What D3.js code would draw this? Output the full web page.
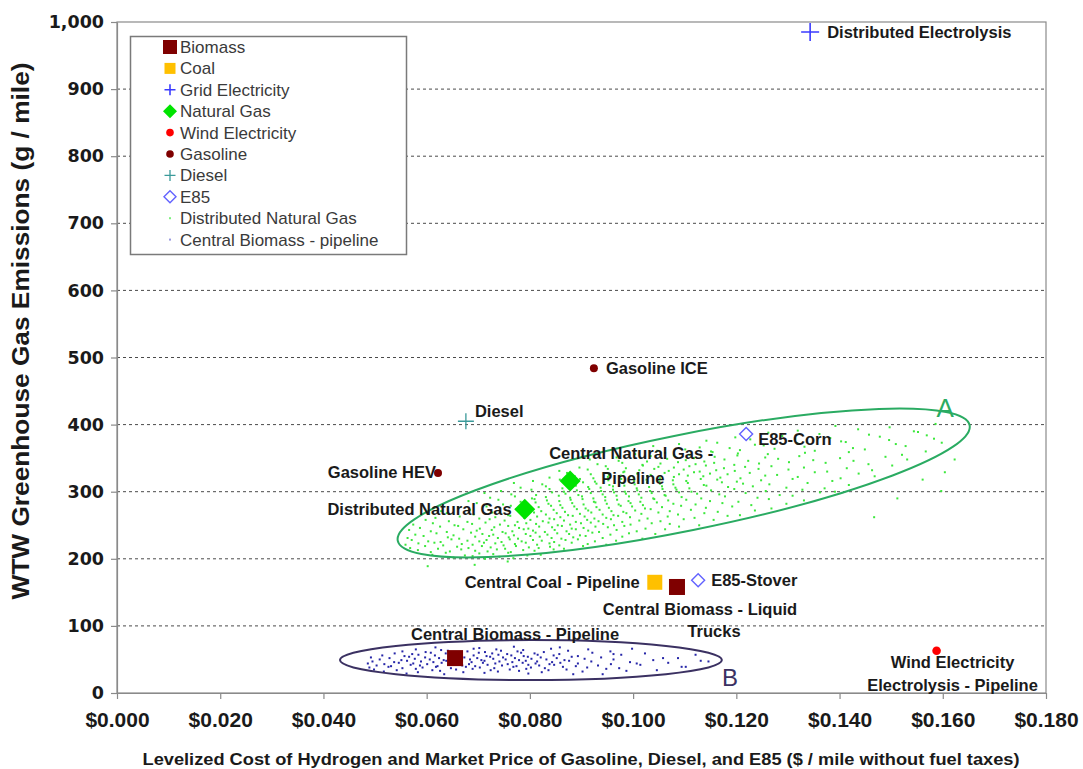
<!DOCTYPE html>
<html>
<head>
<meta charset="utf-8">
<script src="https://cdn.jsdelivr.net/npm/d3@7"></script>
<style>
  body { margin: 0; background: #ffffff; }
  svg { display: block; font-family: "Liberation Sans", Arial, sans-serif; }
</style>
</head>
<body>
<svg id="chart" width="1083" height="769"></svg>
<script>
// ---------- axis ticks ----------
const xTicks = [0, 0.02, 0.04, 0.06, 0.08, 0.10, 0.12, 0.14, 0.16, 0.18];
const xTickLabels = ["$0.000", "$0.020", "$0.040", "$0.060", "$0.080", "$0.100", "$0.120", "$0.140", "$0.160", "$0.180"];
const yTicks = [0, 100, 200, 300, 400, 500, 600, 700, 800, 900, 1000];
const yTickLabels = ["0", "100", "200", "300", "400", "500", "600", "700", "800", "900", "1,000"];

// ---------- pathways: cost ($/mile) vs WTW GHG (g/mile) ----------
const biomass = [
  { lines: ["Central Biomass - Liquid", "Trucks"], x: 0.1085, y: 158 },
  { lines: ["Central Biomass - Pipeline"], x: 0.0655, y: 52 }
];
const coal = [
  { lines: ["Central Coal - Pipeline"], x: 0.1042, y: 165 }
];
const gridElectricity = [
  { lines: ["Distributed Electrolysis"], x: 0.1343, y: 985 }
];
const naturalGas = [
  { lines: ["Distributed Natural Gas"], x: 0.0790, y: 274 },
  { lines: ["Central Natural Gas -", "Pipeline"], x: 0.0878, y: 316 }
];
const windElectricity = [
  { lines: ["Wind Electricity", "Electrolysis - Pipeline"], x: 0.1588, y: 63 }
];
const gasoline = [
  { lines: ["Gasoline ICE"], x: 0.0924, y: 484 },
  { lines: ["Gasoline HEV"], x: 0.0622, y: 328 }
];
const diesel = [
  { lines: ["Diesel"], x: 0.0676, y: 405 }
];
const e85 = [
  { lines: ["E85-Corn"], x: 0.1219, y: 386 },
  { lines: ["E85-Stover"], x: 0.1126, y: 168 }
];

const legendNames = ["Biomass", "Coal", "Grid Electricity", "Natural Gas", "Wind Electricity",
  "Gasoline", "Diesel", "E85", "Distributed Natural Gas", "Central Biomass - pipeline"];

// ---------- Monte Carlo clouds ($/mile, g/mile) ----------
const cloudDistributedNG = [
  [0.0652,202],[0.0689,204],[0.0713,200],[0.0741,203],[0.0768,201],
  [0.0611,206],[0.0637,209],[0.0674,205],[0.0702,208],[0.0729,207],[0.0758,209],[0.0795,205],[0.0821,206],
  [0.0583,213],[0.0608,210],[0.0645,211],[0.0667,214],[0.0694,212],[0.0718,211],[0.0736,214],[0.0763,210],[0.0787,213],[0.0809,212],[0.0846,214],
  [0.0568,216],[0.0597,219],[0.0622,215],[0.0659,218],[0.0681,216],[0.0707,219],[0.0724,217],[0.0752,215],[0.0773,219],[0.0798,217],[0.0817,216],[0.0839,218],[0.0866,215],[0.0903,219],
  [0.0559,221],[0.0584,223],[0.0615,224],[0.0632,220],[0.0668,222],[0.0689,221],[0.0711,224],[0.0733,223],[0.0749,220],[0.0771,222],[0.0792,224],[0.0814,221],[0.0838,223],[0.0857,220],[0.0881,224],[0.0912,222],[0.0948,221],
  [0.0571,228],[0.0603,226],[0.0627,225],[0.0648,229],[0.0679,227],[0.0702,226],[0.0716,228],[0.0745,225],[0.0761,229],[0.0784,226],[0.0806,228],[0.0823,227],[0.0847,225],[0.0869,228],[0.0893,229],[0.0926,226],[0.0967,227],
  [0.0563,231],[0.0594,234],[0.0641,232],[0.0663,230],[0.0694,233],[0.0721,234],[0.0738,231],[0.0759,232],[0.0777,230],[0.0801,234],[0.0819,233],[0.0842,231],[0.0861,230],[0.0884,232],[0.0908,234],[0.0941,231],[0.0979,233],[0.1018,230],
  [0.0578,236],[0.0619,238],[0.0652,235],[0.0686,239],[0.0708,237],[0.0729,236],[0.0753,238],[0.0769,235],[0.0792,237],[0.0811,239],[0.0834,236],[0.0853,238],[0.0876,237],[0.0897,235],[0.0921,239],[0.0956,236],[0.0992,238],[0.1043,237],
  [0.0566,243],[0.0608,241],[0.0639,240],[0.0671,244],[0.0697,242],[0.0726,243],[0.0747,240],[0.0766,241],[0.0788,244],[0.0806,242],[0.0829,240],[0.0848,243],[0.0871,241],[0.0889,244],[0.0913,242],[0.0934,240],[0.0968,243],[0.1007,241],[0.1062,244],
  [0.0587,246],[0.0626,248],[0.0661,249],[0.0703,245],[0.0731,247],[0.0758,249],[0.0779,246],[0.0797,245],[0.0818,248],[0.0843,247],[0.0862,249],[0.0881,245],[0.0904,246],[0.0927,248],[0.0951,247],[0.0983,249],[0.1024,245],[0.1089,248],
  [0.0574,251],[0.0612,253],[0.0654,250],[0.0688,252],[0.0714,254],[0.0742,251],[0.0771,250],[0.0793,253],[0.0812,252],[0.0836,254],[0.0854,250],[0.0878,251],[0.0899,253],[0.0918,254],[0.0942,252],[0.0963,250],[0.0995,251],[0.1036,253],[0.1071,252],[0.1128,250],
  [0.0598,258],[0.0643,256],[0.0679,255],[0.0722,259],[0.0751,257],[0.0776,255],[0.0801,258],[0.0825,256],[0.0847,259],[0.0866,257],[0.0889,255],[0.0911,258],[0.0933,256],[0.0957,259],[0.0979,255],[0.1012,257],[0.1053,256],[0.1098,259],[0.1156,258],
  [0.0617,261],[0.0664,263],[0.0702,260],[0.0733,262],[0.0762,264],[0.0789,261],[0.0814,263],[0.0838,260],[0.0859,262],[0.0883,264],[0.0906,263],[0.0925,260],[0.0948,261],[0.0971,264],[0.0994,262],[0.1028,260],[0.1067,263],[0.1119,261],[0.1183,264],
  [0.0639,268],[0.0691,266],[0.0727,269],[0.0758,265],[0.0784,267],[0.0808,269],[0.0831,266],[0.0852,268],[0.0874,265],[0.0897,267],[0.0919,269],[0.0941,266],[0.0962,265],[0.0987,268],[0.1016,267],[0.1049,269],[0.1087,266],[0.1138,268],[0.1207,265],
  [0.0628,271],[0.0684,273],[0.0742,270],[0.0773,274],[0.0799,272],[0.0822,271],[0.0846,273],[0.0868,270],[0.0891,274],[0.0913,272],[0.0935,273],[0.0958,271],[0.0981,270],[0.1004,272],[0.1034,274],[0.1071,271],[0.1112,273],[0.1164,270],[0.1236,272],
  [0.0661,276],[0.0716,278],[0.0763,279],[0.0792,275],[0.0817,277],[0.0841,279],[0.0863,276],[0.0886,278],[0.0908,275],[0.0929,277],[0.0953,276],[0.0976,279],[0.0998,278],[0.1023,275],[0.1056,277],[0.1093,279],[0.1141,276],[0.1192,278],[0.1268,275],
  [0.0697,283],[0.0748,281],[0.0786,280],[0.0811,284],[0.0836,282],[0.0859,280],[0.0882,283],[0.0904,281],[0.0927,284],[0.0949,282],[0.0972,281],[0.0995,283],[0.1019,280],[0.1046,284],[0.1078,282],[0.1121,281],[0.1173,283],[0.1229,280],[0.1297,282],
  [0.0681,286],[0.0739,288],[0.0782,285],[0.0809,289],[0.0833,287],[0.0857,286],[0.0879,288],[0.0902,289],[0.0924,285],[0.0946,287],[0.0969,288],[0.0991,286],[0.1014,285],[0.1041,289],[0.1068,287],[0.1103,288],[0.1149,286],[0.1204,285],[0.1263,289],[0.1331,287],
  [0.0723,291],[0.0771,293],[0.0804,290],[0.0831,292],[0.0856,294],[0.0878,291],[0.0901,293],[0.0923,290],[0.0946,292],[0.0968,294],[0.0992,293],[0.1016,291],[0.1039,290],[0.1063,294],[0.1094,292],[0.1132,290],[0.1178,293],[0.1241,291],[0.1309,294],
  [0.0712,298],[0.0764,296],[0.0812,295],[0.0843,299],[0.0869,297],[0.0894,295],[0.0918,298],[0.0941,296],[0.0963,299],[0.0986,297],[0.1011,296],[0.1036,298],[0.1061,295],[0.1089,299],[0.1124,297],[0.1167,296],[0.1218,298],[0.1284,295],[0.1362,299],
  [0.0744,301],[0.0803,303],[0.0838,304],[0.0866,300],[0.0891,302],[0.0915,304],[0.0938,301],[0.0961,303],[0.0984,300],[0.1008,302],[0.1033,301],[0.1057,304],[0.1084,303],[0.1113,300],[0.1151,302],[0.1196,304],[0.1257,301],[0.1328,303],[0.1391,300],
  [0.0782,306],[0.0831,308],[0.0863,305],[0.0889,309],[0.0913,307],[0.0937,306],[0.0961,308],[0.0983,309],[0.1007,305],[0.1031,307],[0.1056,308],[0.1082,306],[0.1109,305],[0.1142,309],[0.1184,307],[0.1232,308],[0.1297,306],[0.1371,305],
  [0.0769,313],[0.0824,311],[0.0872,310],[0.0903,314],[0.0929,312],[0.0954,310],[0.0978,313],[0.1003,311],[0.1027,314],[0.1052,312],[0.1078,311],[0.1106,313],[0.1137,310],[0.1172,314],[0.1213,312],[0.1264,311],[0.1338,313],[0.1418,310],
  [0.0806,316],[0.0858,318],[0.0897,319],[0.0926,315],[0.0952,317],[0.0977,319],[0.1002,316],[0.1026,318],[0.1051,315],[0.1077,317],[0.1103,316],[0.1131,319],[0.1163,318],[0.1201,315],[0.1248,317],[0.1309,319],[0.1386,316],
  [0.0838,321],[0.0887,323],[0.0923,320],[0.0951,322],[0.0976,324],[0.1001,321],[0.1027,323],[0.1052,320],[0.1079,322],[0.1106,324],[0.1136,323],[0.1169,321],[0.1208,320],[0.1256,324],[0.1319,322],[0.1402,320],[0.1468,323],
  [0.0872,328],[0.0918,326],[0.0953,325],[0.0981,329],[0.1008,327],[0.1034,325],[0.1061,328],[0.1089,326],[0.1118,329],[0.1149,327],[0.1183,326],[0.1226,328],[0.1279,325],[0.1352,329],[0.1437,327],
  [0.0857,331],[0.0912,333],[0.0951,334],[0.0983,330],[0.1012,332],[0.1041,334],[0.1069,331],[0.1098,333],[0.1129,330],[0.1161,332],[0.1197,331],[0.1243,334],[0.1301,333],[0.1376,330],[0.1463,332],
  [0.0896,336],[0.0947,338],[0.0986,335],[0.1019,339],[0.1049,337],[0.1079,336],[0.1109,338],[0.1141,339],[0.1176,335],[0.1217,337],[0.1268,338],[0.1331,336],[0.1414,335],[0.1502,339],
  [0.0931,341],[0.0979,343],[0.1018,340],[0.1053,342],[0.1087,344],[0.1121,341],[0.1157,343],[0.1196,340],[0.1244,342],[0.1302,344],[0.1373,343],[0.1456,341],
  [0.0916,348],[0.0972,346],[0.1027,345],[0.1066,349],[0.1102,347],[0.1138,345],[0.1177,348],[0.1223,346],[0.1281,349],[0.1349,347],[0.1427,346],[0.1531,348],
  [0.0968,351],[0.1034,353],[0.1079,354],[0.1118,350],[0.1158,352],[0.1202,354],[0.1256,351],[0.1322,353],[0.1401,350],[0.1489,352],
  [0.1004,356],[0.1062,358],[0.1109,355],[0.1154,359],[0.1203,357],[0.1261,356],[0.1333,358],[0.1418,359],[0.1521,355],
  [0.1047,361],[0.1101,363],[0.1151,360],[0.1207,362],[0.1274,364],[0.1352,361],[0.1449,363],[0.1567,360],
  [0.1039,368],[0.1129,366],[0.1187,365],[0.1253,369],[0.1332,367],[0.1426,365],[0.1528,368],
  [0.1089,371],[0.1163,373],[0.1236,370],[0.1318,372],[0.1412,374],[0.1509,371],[0.1598,373],
  [0.1142,376],[0.1227,378],[0.1314,379],[0.1403,375],[0.1496,377],[0.1583,379],
  [0.1198,381],[0.1289,383],[0.1382,380],[0.1478,382],[0.1569,384],
  [0.1262,388],[0.1361,386],[0.1457,385],[0.1552,389],
  [0.1319,391],[0.1436,393],[0.1544,390],
  [0.1392,398],[0.1497,396],[0.1586,401],
  [0.1467,262],[0.1597,301],[0.1604,329],[0.1623,348],[0.1561,318],[0.1512,290],[0.0602,189],[0.0693,191],[0.0757,196]
];
const cloudCentralBiomass = [
  [0.0561,29],[0.0634,28],[0.0712,30],[0.0797,29],[0.0884,28],
  [0.0517,32],[0.0583,31],[0.0626,33],[0.0671,31],[0.0738,32],[0.0779,33],[0.0823,31],[0.0902,32],[0.0987,33],
  [0.0498,35],[0.0542,34],[0.0579,36],[0.0611,34],[0.0657,35],[0.0689,36],[0.0724,34],[0.0761,35],[0.0793,36],[0.0836,34],[0.0871,35],[0.0948,36],[0.1046,34],
  [0.0489,38],[0.0526,39],[0.0553,37],[0.0592,38],[0.0618,39],[0.0647,37],[0.0676,39],[0.0703,38],[0.0731,37],[0.0768,39],[0.0802,38],[0.0829,37],[0.0864,39],[0.0911,38],[0.0973,37],[0.1102,39],
  [0.0503,41],[0.0531,40],[0.0569,42],[0.0587,41],[0.0621,40],[0.0642,42],[0.0669,41],[0.0694,40],[0.0718,42],[0.0746,41],[0.0774,40],[0.0797,42],[0.0818,41],[0.0847,42],[0.0889,40],[0.0932,41],[0.1014,42],
  [0.0486,44],[0.0518,43],[0.0546,45],[0.0574,44],[0.0601,43],[0.0629,45],[0.0655,44],[0.0682,43],[0.0709,45],[0.0733,44],[0.0757,43],[0.0786,45],[0.0811,44],[0.0838,43],[0.0859,45],[0.0893,44],[0.0957,43],[0.1068,45],
  [0.0495,47],[0.0537,46],[0.0562,48],[0.0589,47],[0.0613,46],[0.0638,48],[0.0661,47],[0.0687,46],[0.0712,48],[0.0741,47],[0.0766,46],[0.0792,48],[0.0814,47],[0.0843,46],[0.0876,48],[0.0919,47],[0.0994,46],[0.1131,48],
  [0.0509,50],[0.0551,49],[0.0577,51],[0.0606,50],[0.0633,49],[0.0659,51],[0.0684,50],[0.0706,49],[0.0729,51],[0.0753,50],[0.0779,49],[0.0803,51],[0.0832,50],[0.0867,49],[0.0906,51],[0.0962,50],[0.1039,49],
  [0.0492,53],[0.0528,52],[0.0566,54],[0.0597,53],[0.0624,52],[0.0649,54],[0.0673,53],[0.0698,52],[0.0723,54],[0.0748,53],[0.0771,52],[0.0796,54],[0.0821,53],[0.0852,52],[0.0881,54],[0.0938,53],[0.1087,52],
  [0.0514,56],[0.0557,55],[0.0584,57],[0.0616,56],[0.0643,55],[0.0667,57],[0.0691,56],[0.0716,55],[0.0739,57],[0.0764,56],[0.0788,55],[0.0815,57],[0.0846,56],[0.0893,55],[0.0977,57],
  [0.0538,59],[0.0572,58],[0.0608,60],[0.0637,59],[0.0664,58],[0.0701,60],[0.0727,59],[0.0756,58],[0.0783,60],[0.0809,59],[0.0857,58],[0.0921,60],[0.1023,59],
  [0.0553,62],[0.0598,61],[0.0641,63],[0.0679,62],[0.0713,61],[0.0744,63],[0.0776,62],[0.0827,61],[0.0874,63],[0.0956,62],
  [0.0579,65],[0.0628,64],[0.0691,66],[0.0735,65],[0.0787,64],[0.0841,66],[0.0913,65],
  [0.0617,68],[0.0702,67],[0.0769,69],[0.0858,68],
  [0.0962,58],[0.1007,44],[0.1058,52],[0.1094,39],[0.1121,57],[0.1146,47],[0.0998,66],[0.0941,28]
];

// Uncertainty envelopes: ends of the long axis in data units
const envelopeA = { from: [0.0544, 227], to: [0.1652, 399], tag: "A" };
const envelopeB = { from: [0.0432, 49], to: [0.1172, 49], tag: "B" };

// ---------- layout ----------
const plot = { left: 117, right: 1046, top: 22, bottom: 693 };
const x = d3.scaleLinear().domain([0, 0.18]).range([plot.left, plot.right]);
const y = d3.scaleLinear().domain([0, 1000]).range([plot.bottom, plot.top]);
const svg = d3.select("#chart");

const ink = "#1a1a1a";
const axisGrey = "#8a8a8a";

// Marker styles per fuel pathway
const styles = {
  "Biomass":          { kind: "square",  fill: "#7f0000", size: 16, legendSize: 14 },
  "Coal":             { kind: "square",  fill: "#ffc000", size: 15, legendSize: 11 },
  "Grid Electricity": { kind: "plus",    stroke: "#3b3bff", size: 9, legendSize: 5.5, width: 1.6 },
  "Natural Gas":      { kind: "diamond", fill: "#00e400", size: 21, legendSize: 14 },
  "Wind Electricity": { kind: "circle",  fill: "#ff0000", size: 4.3, legendSize: 3.8 },
  "Gasoline":         { kind: "circle",  fill: "#7f0000", size: 4, legendSize: 3.8 },
  "Diesel":           { kind: "plus",    stroke: "#3a9a9a", size: 8, legendSize: 5.5, width: 1.3 },
  "E85":              { kind: "odiamond", stroke: "#6262ff", size: 13, legendSize: 12, width: 1.4 },
  "Distributed Natural Gas":    { kind: "dot", fill: "#7ef07e", size: 2 },
  "Central Biomass - pipeline": { kind: "dot", fill: "#9a9ae0", size: 2 }
};

function drawMarker(g, st, cx, cy, legend) {
  const s = legend ? st.legendSize : st.size;
  if (st.kind === "square") {
    g.append("rect").attr("x", cx - s / 2).attr("y", cy - s / 2)
      .attr("width", s).attr("height", s).attr("fill", st.fill);
  } else if (st.kind === "plus") {
    g.append("path").attr("d", `M${cx - s},${cy}H${cx + s}M${cx},${cy - s}V${cy + s}`)
      .attr("stroke", st.stroke).attr("stroke-width", st.width).attr("fill", "none");
  } else if (st.kind === "diamond") {
    const h = s / 2;
    g.append("path").attr("d", `M${cx},${cy - h}L${cx + h},${cy}L${cx},${cy + h}L${cx - h},${cy}Z`)
      .attr("fill", st.fill);
  } else if (st.kind === "odiamond") {
    const h = s / 2;
    g.append("path").attr("d", `M${cx},${cy - h}L${cx + h},${cy}L${cx},${cy + h}L${cx - h},${cy}Z`)
      .attr("fill", "#ffffff").attr("stroke", st.stroke).attr("stroke-width", st.width);
  } else if (st.kind === "circle") {
    g.append("circle").attr("cx", cx).attr("cy", cy).attr("r", s).attr("fill", st.fill);
  } else if (st.kind === "dot") {
    g.append("rect").attr("x", cx - 1).attr("y", cy - 1).attr("width", st.size).attr("height", st.size)
      .attr("fill", st.fill);
  }
}

// ---------- gridlines ----------
svg.append("g").selectAll("line")
  .data(yTicks.filter(v => v > 0 && v < 1000))
  .join("line")
  .attr("x1", plot.left).attr("x2", plot.right)
  .attr("y1", d => y(d)).attr("y2", d => y(d))
  .attr("stroke", "#4a4a4a").attr("stroke-width", 1).attr("stroke-dasharray", "3,3");

// plot frame
svg.append("rect")
  .attr("x", plot.left).attr("y", plot.top)
  .attr("width", plot.right - plot.left).attr("height", plot.bottom - plot.top)
  .attr("fill", "none").attr("stroke", axisGrey).attr("stroke-width", 1.2);

// ---------- axes ----------
const yAxis = svg.append("g").attr("transform", `translate(${plot.left},0)`)
  .call(d3.axisLeft(y).tickValues(yTicks).tickFormat((d, i) => yTickLabels[i])
    .tickSize(6).tickSizeOuter(0).tickPadding(7));
yAxis.selectAll("text").attr("font-family", "'DejaVu Sans', sans-serif")
  .attr("font-weight", "bold").attr("font-size", 17.5).attr("fill", ink);

const xAxis = svg.append("g").attr("transform", `translate(0,${plot.bottom})`)
  .call(d3.axisBottom(x).tickValues(xTicks).tickFormat((d, i) => xTickLabels[i])
    .tickSize(6).tickSizeOuter(0).tickPadding(13));
xAxis.selectAll("text").attr("font-family", "'Liberation Sans', Arial, sans-serif")
  .attr("font-weight", "bold").attr("font-size", 21).attr("fill", ink);

[yAxis, xAxis].forEach(a => {
  a.select(".domain").attr("stroke", axisGrey).attr("stroke-width", 1.2);
  a.selectAll(".tick line").attr("stroke", axisGrey).attr("stroke-width", 1.2);
});

// axis titles
svg.append("text")
  .attr("transform", `translate(29,331) rotate(-90)`)
  .attr("text-anchor", "middle")
  .attr("font-weight", "bold").attr("font-size", 24).attr("fill", ink)
  .attr("textLength", 537).attr("lengthAdjust", "spacingAndGlyphs")
  .text("WTW Greenhouse Gas Emissions (g / mile)");

svg.append("text")
  .attr("x", 581).attr("y", 765)
  .attr("text-anchor", "middle")
  .attr("font-weight", "bold").attr("font-size", 16).attr("fill", ink)
  .attr("textLength", 877).attr("lengthAdjust", "spacingAndGlyphs")
  .text("Levelized Cost of Hydrogen and Market Price of Gasoline, Diesel, and E85 ($ / mile without fuel taxes)");

// ---------- clouds ----------
const clouds = svg.append("g");
clouds.selectAll("rect.ng").data(cloudDistributedNG).join("rect").attr("class", "ng")
  .attr("x", d => x(d[0]) - 1).attr("y", d => y(d[1]) - 1)
  .attr("width", 2).attr("height", 2).attr("fill", "#3ce83c");
clouds.selectAll("rect.bm").data(cloudCentralBiomass).join("rect").attr("class", "bm")
  .attr("x", d => x(d[0]) - 1).attr("y", d => y(d[1]) - 1)
  .attr("width", 2).attr("height", 2).attr("fill", "#2626a8");

// ---------- envelopes ----------
function envelope(env, halfMinor, color, tagPos, tagSize) {
  const x1 = x(env.from[0]), y1 = y(env.from[1]);
  const x2 = x(env.to[0]), y2 = y(env.to[1]);
  const cx = (x1 + x2) / 2, cy = (y1 + y2) / 2;
  const rx = Math.hypot(x2 - x1, y2 - y1) / 2;
  const ang = Math.atan2(y2 - y1, x2 - x1) * 180 / Math.PI;
  svg.append("ellipse")
    .attr("cx", cx).attr("cy", cy).attr("rx", rx).attr("ry", halfMinor)
    .attr("transform", `rotate(${ang},${cx},${cy})`)
    .attr("fill", "none").attr("stroke", color).attr("stroke-width", 2);
  svg.append("text")
    .attr("x", x2 + tagPos[0]).attr("y", y2 + tagPos[1])
    .attr("font-size", tagSize).attr("fill", color)
    .text(env.tag);
}
envelope(envelopeA, 48, "#2aab62", [-33, -8], 26);
envelope(envelopeB, 20, "#3b3162", [0, 26], 24);

// ---------- point labels (offsets from marker, px) ----------
const labelLayout = {
  "Distributed Electrolysis":   { anchor: "start",  pos: [[17, 0]] },
  "Gasoline ICE":               { anchor: "start",  pos: [[12, 0]] },
  "Diesel":                     { anchor: "start",  pos: [[9, -10]] },
  "Gasoline HEV":               { anchor: "end",    pos: [[-2, -1]] },
  "Central Natural Gas -":      { anchor: "start",  pos: [[-21, -28], [31, -3]] },
  "Distributed Natural Gas":    { anchor: "end",    pos: [[-13, 0]] },
  "E85-Corn":                   { anchor: "start",  pos: [[12, 5]] },
  "Central Coal - Pipeline":    { anchor: "end",    pos: [[-15, 0]] },
  "E85-Stover":                 { anchor: "start",  pos: [[13, 0]] },
  "Central Biomass - Liquid":   { anchor: "middle", pos: [[23, 22], [37, 44]] },
  "Central Biomass - Pipeline": { anchor: "middle", pos: [[60, -24]] },
  "Wind Electricity":           { anchor: "middle", pos: [[16, 11], [16, 34]] }
};

const seriesData = [
  ["Biomass", biomass], ["Coal", coal], ["Grid Electricity", gridElectricity],
  ["Natural Gas", naturalGas], ["Wind Electricity", windElectricity],
  ["Gasoline", gasoline], ["Diesel", diesel], ["E85", e85]
];

const marks = svg.append("g");
const labels = svg.append("g").attr("font-weight", "bold").attr("font-size", 16.5).attr("fill", ink);
seriesData.forEach(([name, pts]) => {
  pts.forEach(p => {
    const cx = x(p.x), cy = y(p.y);
    drawMarker(marks, styles[name], cx, cy, false);
    const lay = labelLayout[p.lines[0]];
    p.lines.forEach((line, i) => {
      labels.append("text")
        .attr("x", cx + lay.pos[i][0]).attr("y", cy + lay.pos[i][1])
        .attr("dy", "0.35em").attr("text-anchor", lay.anchor)
        .text(line);
    });
  });
});

// ---------- legend ----------
const legend = svg.append("g");
legend.append("rect").attr("x", 130.5).attr("y", 36.5).attr("width", 276).attr("height", 218)
  .attr("fill", "#ffffff").attr("stroke", "#7a7a7a").attr("stroke-width", 1.5);
legendNames.forEach((name, i) => {
  const cy = 47 + i * 21.4;
  drawMarker(legend, styles[name], 170, cy, true);
  legend.append("text").attr("x", 180).attr("y", cy).attr("dy", "0.35em")
    .attr("font-size", 17).attr("fill", "#3a3a3a").text(name);
});
</script>
</body>
</html>
